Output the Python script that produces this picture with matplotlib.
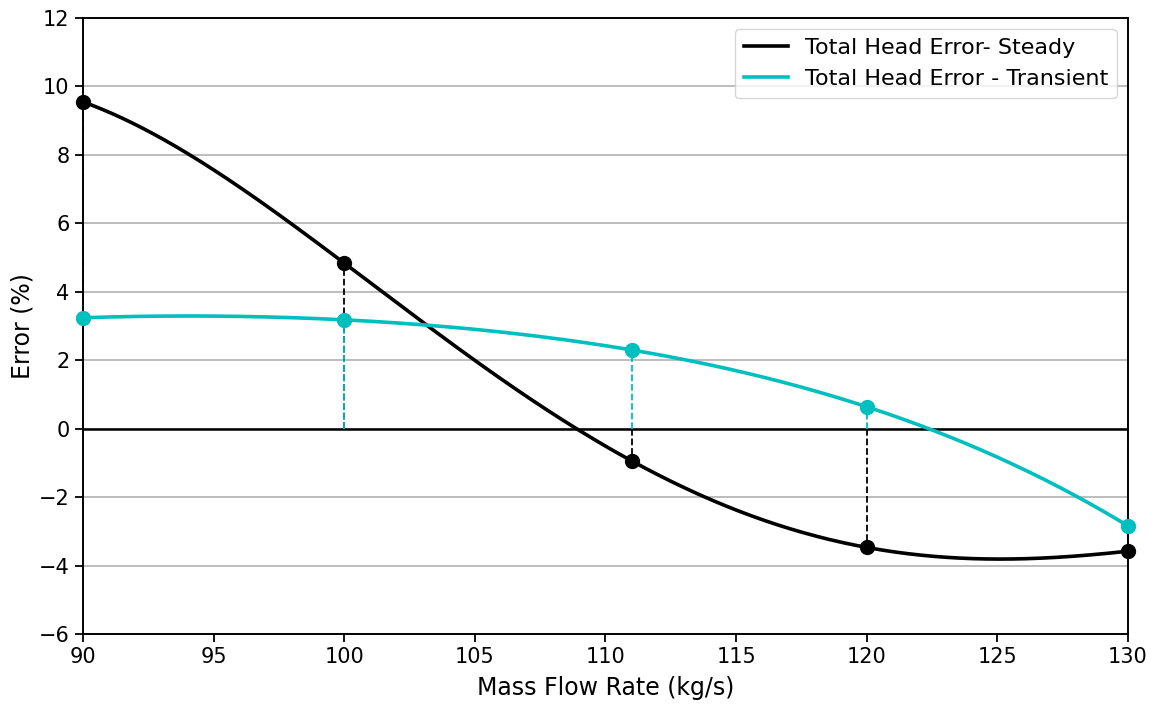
import numpy as np
import matplotlib
matplotlib.use("Agg")
import matplotlib.pyplot as plt

flow = [90, 100, 111, 120, 130]
steady = [9.55, 4.84, -0.94, -3.47, -3.58]
transient = [3.24, 3.18, 2.30, 0.64, -2.84]

fig = plt.figure(figsize=(11.51, 7.05), dpi=100)
ax = fig.add_axes([0.072, 0.1007, 0.908, 0.8738])
ax.set_axisbelow(True)

xs = np.linspace(min(flow), max(flow), 400)
ps = np.polyfit(flow, steady, len(flow) - 1)
pt = np.polyfit(flow, transient, len(flow) - 1)

ax.grid(axis='y', color='#b8b8b8', linewidth=1.3)
ax.axhline(0, color='black', linewidth=1.8, zorder=1.5)

ax.vlines(flow, 0, steady, colors='black', linestyles='--', linewidth=1.3, zorder=2)
ax.vlines(flow, 0, transient, colors='c', linestyles='--', linewidth=1.3, zorder=2.5)

ax.plot(xs, np.polyval(ps, xs), color='black', linewidth=2.6, label='Total Head Error- Steady', zorder=3)
ax.plot(xs, np.polyval(pt, xs), color='c', linewidth=2.6, label='Total Head Error - Transient', zorder=3)
ax.plot(flow, steady, 'o', color='black', markersize=10, zorder=4, clip_on=False)
ax.plot(flow, transient, 'o', color='c', markersize=10, zorder=4, clip_on=False)

ax.set_xlim(90, 130)
ax.set_ylim(-6, 12)
ax.set_xticks(np.arange(90, 131, 5))
ax.set_yticks(np.arange(-6, 13, 2))
ax.tick_params(labelsize=15, length=6, width=1.3)
for s in ax.spines.values():
    s.set_linewidth(1.4)
ax.set_xlabel('Mass Flow Rate (kg/s)', fontsize=17, labelpad=6)
ax.set_ylabel('Error (%)', fontsize=17, labelpad=3)
ax.legend(loc='upper right', fontsize=16, handlelength=2.0, borderpad=0.4,
          labelspacing=0.5, borderaxespad=0.5, handletextpad=0.75)

fig.savefig('out.png', dpi=100)
